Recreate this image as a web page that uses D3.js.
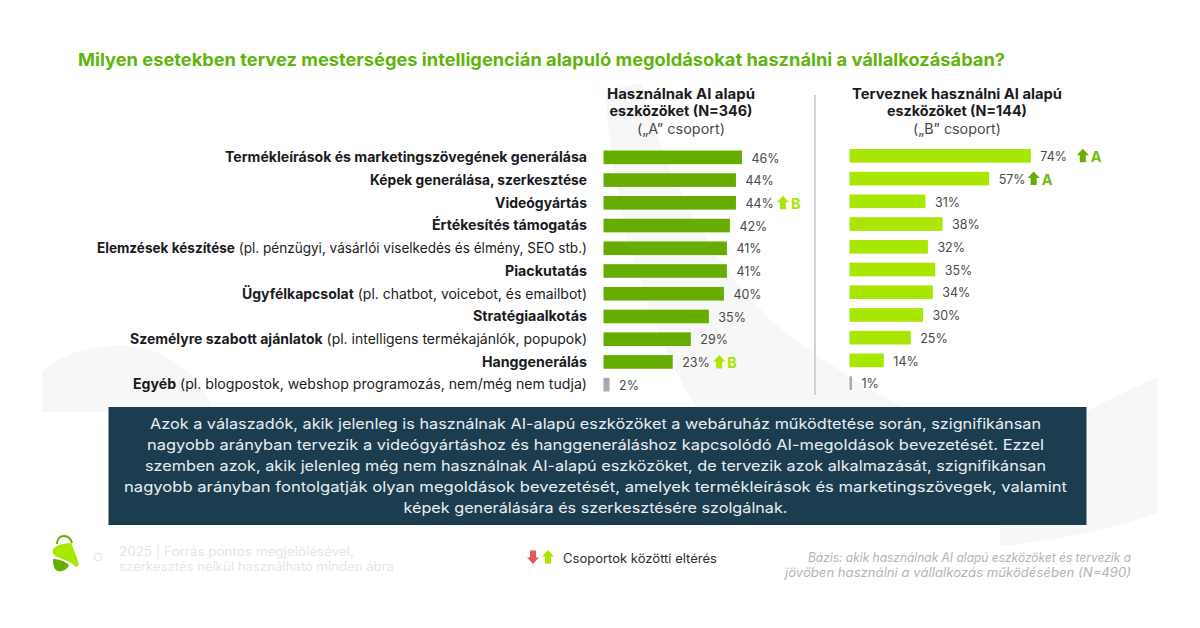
<!DOCTYPE html>
<html lang="hu">
<head>
<meta charset="utf-8">
<script src="https://cdnjs.cloudflare.com/ajax/libs/d3/7.9.0/d3.min.js"></script>
<style>
  html, body { margin: 0; background: #fff; }
  svg { display: block; font-family: Inter, "Noto Sans", sans-serif; }
</style>
</head>
<body>
<svg id="chart" width="1200" height="628"></svg>
<script>
// Kérdés és csoportok
const chartTitle = "Milyen esetekben tervez mesterséges intelligencián alapuló megoldásokat használni a vállalkozásában?";
const boldLabels = [
  "Termékleírások és marketingszövegének generálása",
  "Képek generálása, szerkesztése",
  "Videógyártás",
  "Értékesítés támogatás",
  "Elemzések készítése",
  "Piackutatás",
  "Ügyfélkapcsolat",
  "Stratégiaalkotás",
  "Személyre szabott ajánlatok",
  "Hanggenerálás",
  "Egyéb"
];
const labelNotes = [
  "", "", "", "",
  " (pl. pénzügyi, vásárlói viselkedés és élmény, SEO stb.)",
  "",
  " (pl. chatbot, voicebot, és emailbot)",
  "",
  " (pl. intelligens termékajánlók, popupok)",
  "",
  " (pl. blogpostok, webshop programozás, nem/még nem tudja)"
];
const groupAValues = [46, 44, 44, 42, 41, 41, 40, 35, 29, 23, 2];
const groupBValues = [74, 57, 31, 38, 32, 35, 34, 30, 25, 14, 1];
const groupAFlags = ["", "", "B", "", "", "", "", "", "", "B", ""];
const groupBFlags = ["A", "A", "", "", "", "", "", "", "", "", ""];
const groupAHeader = ["Használnak AI alapú", "eszközöket (N=346)", "(„A” csoport)"];
const groupBHeader = ["Terveznek használni AI alapú", "eszközöket (N=144)", "(„B” csoport)"];
const summaryLines = [
  "Azok a válaszadók, akik jelenleg is használnak AI-alapú eszközöket a webáruház működtetése során, szignifikánsan",
  "nagyobb arányban tervezik a videógyártáshoz és hanggeneráláshoz kapcsolódó AI-megoldások bevezetését. Ezzel",
  "szemben azok, akik jelenleg még nem használnak AI-alapú eszközöket, de tervezik azok alkalmazását, szignifikánsan",
  "nagyobb arányban fontolgatják olyan megoldások bevezetését, amelyek termékleírások és marketingszövegek, valamint",
  "képek generálására és szerkesztésére szolgálnak."
];
const sourceLines = ["2025  |  Forrás pontos megjelölésével,", "szerkesztés nélkül használható minden ábra"];
const baseLines = ["Bázis: akik használnak AI alapú eszközöket és tervezik a", "jövőben használni a vállalkozás működésében (N=490)"];
const legendText = "Csoportok közötti eltérés";

const colors = {
  title: "#5fb50d", ink: "#1b1b22", value: "#4a4a4a", dark: "#66ad00", lime: "#a9e600",
  other: "#a9a9a9", panel: "#1c3d50", wash: "#f7f7f7", rule: "#c4c4c4", red: "#e0595c"
};

const svg = d3.select("#chart");

// Szöveg szélességre igazítása: a betűkészlet eltérő futása ne tolja el a sorokat
function fit(sel, width) {
  sel.attr("textLength", width).attr("lengthAdjust", "spacingAndGlyphs");
  return sel;
}

// Halvány háttérforma
const wash = svg.append("g").attr("fill", colors.wash);
wash.append("path").attr("d", "M606,96 C612,88 628,84 642,84 C668,190 730,300 812,352 C850,378 880,396 912,412 L700,412 C650,340 612,210 606,96 Z");
wash.append("path").attr("d", "M42,372 C60,352 100,344 130,346 C170,350 200,376 214,412 L42,412 Z");
wash.append("path").attr("d", "M1060,425 C1095,406 1125,392 1157,377 L1157,513 C1110,530 1050,542 1000,546 L1000,500 Z");

// Cím
fit(svg.append("text").attr("x", 78).attr("y", 66)
  .attr("font-size", 17.5).attr("font-weight", 700).attr("fill", colors.title)
  .text(chartTitle), 927);

// Sorcímkék
const rows = d3.range(boldLabels.length);
const yLabel = d3.scaleBand().domain(rows).range([146, 396]);
const labelWidths = [362, 217, 92, 155, 490, 82, 345, 114, 457, 105, 454];
const labelLayer = svg.append("g");
rows.forEach(i => {
  const t = labelLayer.append("text")
    .attr("x", 587).attr("y", yLabel(i) + yLabel.bandwidth() / 2 + 4.8)
    .attr("text-anchor", "end").attr("font-size", 14).attr("fill", colors.ink);
  t.append("tspan").attr("font-weight", 700).text(boldLabels[i]);
  t.append("tspan").attr("font-weight", 400).text(labelNotes[i]);
  fit(t, labelWidths[i]);
});

const arrowUp = "M0,-7 L6,-0.5 L3,-0.5 L3,6.5 L-3,6.5 L-3,-0.5 L-6,-0.5 Z";

// Egy csoport oszlopai, értékcímkéi és szignifikancia-jelei
function drawGroup(cfg) {
  const x = d3.scaleLinear().domain([0, 100]).range([cfg.x0, cfg.x0 + cfg.perPct * 100]);
  const y = d3.scaleBand().domain(rows).range(cfg.yRange).paddingInner(0.4).paddingOuter(0.2);
  const g = svg.append("g");
  g.selectAll("rect").data(cfg.values).join("rect")
    .attr("x", x(0)).attr("y", (d, i) => y(i))
    .attr("width", d => x(d) - x(0)).attr("height", y.bandwidth())
    .attr("fill", (d, i) => i === cfg.values.length - 1 ? colors.other : cfg.color);
  g.selectAll("text.value").data(cfg.values).join("text").attr("class", "value")
    .attr("x", d => x(d) + 9.5).attr("y", (d, i) => y(i) + y.bandwidth() / 2 + 5.2)
    .attr("font-size", 12.5).attr("fill", colors.value).text(d => d + "%");
  cfg.flags.forEach((f, i) => {
    if (!f) return;
    const px = x(cfg.values[i]) + cfg.flagGap[i];
    const py = y(i) + y.bandwidth() / 2;
    g.append("path").attr("transform", `translate(${px},${py})`)
      .attr("d", arrowUp).attr("fill", cfg.flagColor);
    g.append("text").attr("x", px + 8).attr("y", py + 6.5)
      .attr("font-size", 14.5).attr("font-weight", 700).attr("fill", cfg.textColor).text(f);
  });
}

drawGroup({
  values: groupAValues, flags: groupAFlags, color: colors.dark,
  x0: 603.5, perPct: 3.01, yRange: [146, 396],
  flagColor: colors.lime, textColor: colors.lime,
  flagGap: { 2: 47, 9: 46.5 }
});
drawGroup({
  values: groupBValues, flags: groupBFlags, color: colors.lime,
  x0: 849.5, perPct: 2.45, yRange: [144.5, 394.5],
  flagColor: colors.dark, textColor: "#6cc00c",
  flagGap: { 0: 52, 1: 44.5 }
});

// Csoportfejlécek
function drawHeader(lines, cx, widths) {
  lines.forEach((s, i) => {
    fit(svg.append("text").attr("x", cx).attr("y", 98.5 + i * 17.5)
      .attr("text-anchor", "middle").attr("font-size", 14)
      .attr("font-weight", i < 2 ? 700 : 400).attr("fill", i < 2 ? colors.ink : colors.value)
      .text(s), widths[i]);
  });
}
drawHeader(groupAHeader, 681, [148, 143, 88]);
drawHeader(groupBHeader, 957, [210, 140, 88]);

// Elválasztó vonal
svg.append("line").attr("x1", 815).attr("x2", 815).attr("y1", 95).attr("y2", 395)
  .attr("stroke", colors.rule).attr("stroke-width", 1.5);

// Összegző doboz
svg.append("rect").attr("x", 108.5).attr("y", 407).attr("width", 978).attr("height", 118).attr("fill", colors.panel);
const summaryWidths = [891, 897, 901, 943, 384];
summaryLines.forEach((s, i) => {
  fit(svg.append("text").attr("x", 595.5).attr("y", 429 + i * 21)
    .attr("text-anchor", "middle").attr("font-size", 14.5).attr("fill", "#e9eef1").text(s), summaryWidths[i]);
});

// Logó
const logo = svg.append("g");
logo.append("path").attr("d", "M57,544 C57,539 60,536 64,536 C68,536 71,539 72,543")
  .attr("fill", "none").attr("stroke", colors.dark).attr("stroke-width", 2);
logo.append("path").attr("d", "M55,547 C60,544 66,543 71,543 C74,550 77,558 79,565 L76,567 C72,563 66,560 60,558 C53,556 50,551 55,547 Z").attr("fill", colors.lime);
logo.append("path").attr("d", "M53,559 C58,559 65,561 69,565 C67,570 62,572 58,571 C54,570 53,565 53,559 Z").attr("fill", colors.dark);

// Lábléc
svg.append("circle").attr("cx", 98).attr("cy", 557).attr("r", 3.8).attr("fill", "none").attr("stroke", "#e2e2e2").attr("stroke-width", 1);
sourceLines.forEach((s, i) => {
  fit(svg.append("text").attr("x", 119).attr("y", 556 + i * 15)
    .attr("font-size", 12.5).attr("font-weight", 400).attr("fill", "#e6e6e6").text(s), [235, 275][i]);
});

// Jelmagyarázat
svg.append("path").attr("transform", "translate(533,557) scale(1,-1)").attr("d", arrowUp).attr("fill", colors.red);
svg.append("path").attr("transform", "translate(548,557)").attr("d", arrowUp).attr("fill", colors.lime);
fit(svg.append("text").attr("x", 563).attr("y", 563).attr("font-size", 12.5).attr("fill", "#2e2e33").text(legendText), 154);

// Bázis
baseLines.forEach((s, i) => {
  fit(svg.append("text").attr("x", 1131).attr("y", 562 + i * 15)
    .attr("text-anchor", "end").attr("font-size", 12.5).attr("font-style", "italic").attr("fill", "#b4b4b4")
    .text(s), [323, 346][i]);
});
</script>
</body>
</html>
